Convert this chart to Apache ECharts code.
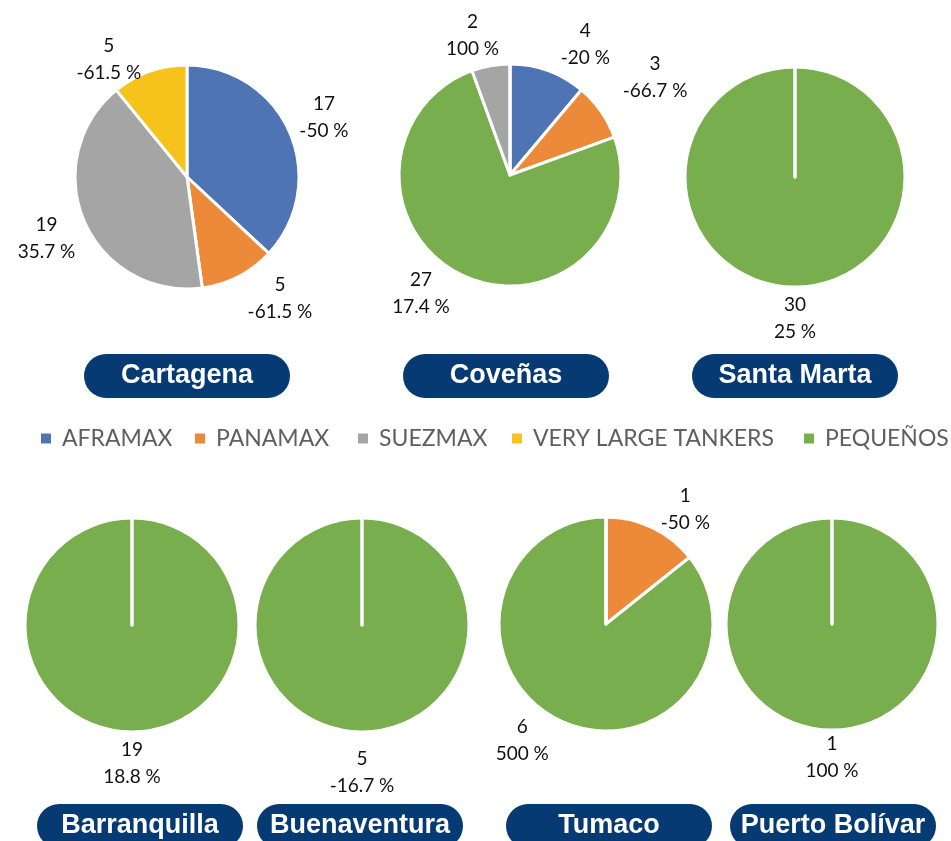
<!DOCTYPE html>
<html>

<head>
    <meta charset='utf-8' />
    <title>Buques por puerto</title>
    <style>
        body {
            margin: 0;
            padding: 0;
            background: #fff;
        }

        #chart {
            width: 951px;
            height: 841px;
        }
    </style>
    <script src="https://cdn.jsdelivr.net/npm/echarts@6/dist/echarts.min.js"></script>
</head>

<body>
    <div id='chart'></div>
    <script type="text/javascript">
        // ports, in drawing order
        var ports = ['Cartagena', 'Coveñas', 'Santa Marta', 'Barranquilla', 'Buenaventura', 'Tumaco', 'Puerto Bolívar'];

        // vessel types in slice order (clockwise from 12 o'clock) and in legend order
        var sliceTypes = ['AFRAMAX', 'PANAMAX', 'PEQUEÑOS', 'SUEZMAX', 'VERY LARGE TANKERS'];
        var legendTypes = ['AFRAMAX', 'PANAMAX', 'SUEZMAX', 'VERY LARGE TANKERS', 'PEQUEÑOS'];

        // number of vessels per port (same order as ports)
        var aframax = [17, 4, 0, 0, 0, 0, 0];
        var panamax = [5, 3, 0, 0, 0, 1, 0];
        var pequenos = [0, 27, 30, 19, 5, 6, 1];
        var suezmax = [19, 2, 0, 0, 0, 0, 0];
        var veryLarge = [5, 0, 0, 0, 0, 0, 0];

        // variation in % per port
        var aframaxChange = [-50, -20, null, null, null, null, null];
        var panamaxChange = [-61.5, -66.7, null, null, null, -50, null];
        var pequenosChange = [null, 17.4, 25, 18.8, -16.7, 500, 100];
        var suezmaxChange = [35.7, 100, null, null, null, null, null];
        var veryLargeChange = [-61.5, null, null, null, null, null, null];

        var counts = {
            'AFRAMAX': aframax,
            'PANAMAX': panamax,
            'PEQUEÑOS': pequenos,
            'SUEZMAX': suezmax,
            'VERY LARGE TANKERS': veryLarge
        };
        var changes = {
            'AFRAMAX': aframaxChange,
            'PANAMAX': panamaxChange,
            'PEQUEÑOS': pequenosChange,
            'SUEZMAX': suezmaxChange,
            'VERY LARGE TANKERS': veryLargeChange
        };
        var colors = {
            'AFRAMAX': '#4f74b4',
            'PANAMAX': '#ed8a3a',
            'PEQUEÑOS': '#78ae4e',
            'SUEZMAX': '#a6a5a6',
            'VERY LARGE TANKERS': '#f6c21c'
        };

        // layout: pie centre / radius, port badge centre / top
        var pieBox = [
            { c: [187, 177], r: 112 },
            { c: [510, 175], r: 111 },
            { c: [795, 177], r: 110 },
            { c: [132, 625], r: 107 },
            { c: [362, 625], r: 107 },
            { c: [606, 624], r: 107 },
            { c: [832, 624], r: 106 }
        ];
        var badgeBox = [
            { x: 187, y: 354 }, { x: 506, y: 354 }, { x: 795, y: 354 },
            { x: 140, y: 804 }, { x: 360, y: 804 }, { x: 609, y: 804 }, { x: 833, y: 804 }
        ];
        var legendLeft = [39, 193, 356, 510, 802];
        var labelGap = 4;
        // best-fit nudges for some labels: a = extra degrees, d = extra px
        var labelNudge = [
            { 'PANAMAX': { a: -10, d: -4 }, 'VERY LARGE TANKERS': { a: -14, d: -15 } },
            { 'AFRAMAX': { a: 10, d: 0 }, 'PANAMAX': { a: 1, d: 18 }, 'PEQUEÑOS': { a: 12, d: -6 }, 'SUEZMAX': { a: -5, d: -3 } },
            {},
            {},
            { 'PEQUEÑOS': { a: 0, d: 9 } },
            { 'PANAMAX': { a: 9, d: -8 }, 'PEQUEÑOS': { a: 10, d: -5 } },
            { 'PEQUEÑOS': { a: 0, d: -4 } }
        ];

        function sliceValues(p) {
            return sliceTypes.map(function (t) { return counts[t][p]; });
        }

        var myChart = echarts.init(document.getElementById('chart'));

        var series = ports.map(function (port, p) {
            var box = pieBox[p];
            var vals = sliceValues(p);
            var total = vals.reduce(function (a, b) { return a + b; }, 0);
            return {
                type: 'pie',
                name: port,
                center: box.c,
                radius: box.r,
                startAngle: 90,
                clockwise: true,
                silent: true,
                animation: false,
                avoidLabelOverlap: false,
                itemStyle: {
                    borderColor: '#fff',
                    borderWidth: 3
                },
                label: {
                    position: 'outside',
                    fontFamily: 'Lato',
                    fontSize: 19,
                    lineHeight: 27,
                    color: '#111',
                    formatter: function (params) {
                        var t = sliceTypes[params.dataIndex];
                        return params.value + '\n' + changes[t][p] + ' %';
                    }
                },
                labelLine: { show: false },
                // put each label just outside the arc, on the slice's middle angle
                labelLayout: function (params) {
                    var i = params.dataIndex;
                    var nudge = labelNudge[p][sliceTypes[i]] || { a: 0, d: 0 };
                    var before = 0;
                    for (var k = 0; k < i; k++) before += vals[k];
                    var a = (before + vals[i] / 2) / total * Math.PI * 2 + nudge.a * Math.PI / 180;
                    var dx = Math.sin(a), dy = -Math.cos(a);
                    var w = params.labelRect.width, h = params.labelRect.height;
                    var d = box.r + labelGap + nudge.d + Math.abs(dx) * w / 2 + Math.abs(dy) * h / 2;
                    return {
                        x: box.c[0] + dx * d,
                        y: box.c[1] + dy * d,
                        align: 'center',
                        verticalAlign: 'middle'
                    };
                },
                data: sliceTypes.map(function (t) {
                    var v = counts[t][p];
                    return {
                        name: t,
                        value: v,
                        label: { show: v > 0 },
                        itemStyle: { color: colors[t] }
                    };
                })
            };
        });

        var legends = legendTypes.map(function (t, k) {
            return {
                data: [t],
                left: legendLeft[k],
                top: 427,
                padding: 0,
                icon: 'rect',
                itemWidth: 12,
                itemHeight: 12,
                selectedMode: false,
                textStyle: {
                    fontFamily: 'Lato',
                    fontSize: 23,
                    color: '#5f5f5f',
                    padding: [0, 0, 0, 5]
                }
            };
        });

        var badges = ports.map(function (port, p) {
            var b = badgeBox[p];
            return {
                type: 'group',
                silent: true,
                children: [{
                    type: 'rect',
                    shape: { x: b.x - 103, y: b.y, width: 206, height: 44, r: 22 },
                    style: { fill: '#053a73' }
                }, {
                    type: 'text',
                    style: {
                        x: b.x,
                        y: b.y + 22,
                        text: port,
                        align: 'center',
                        verticalAlign: 'middle',
                        fill: '#fff',
                        font: 'bold 27px "Liberation Sans", Arial, sans-serif'
                    }
                }]
            };
        });

        myChart.setOption({
            backgroundColor: '#fff',
            animation: false,
            legend: legends,
            graphic: badges,
            series: series
        });
    </script>
</body>

</html>
